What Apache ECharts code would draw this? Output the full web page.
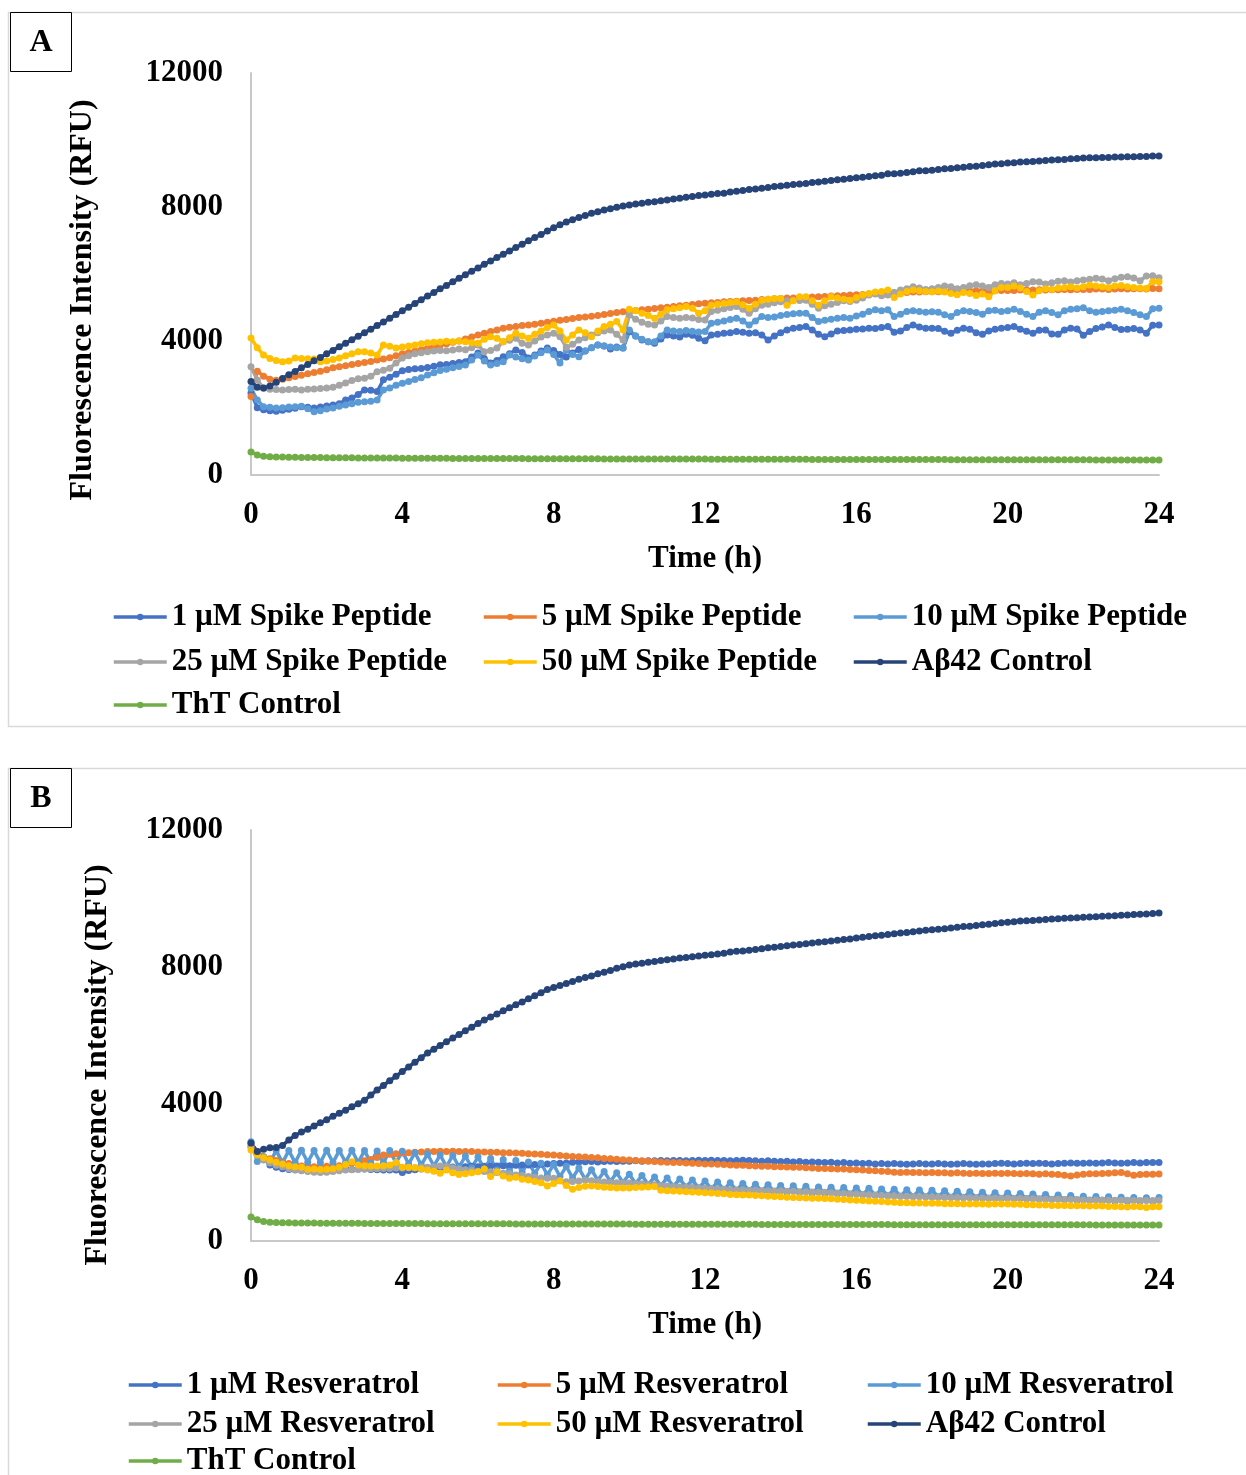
<!DOCTYPE html>
<html>
<head>
<meta charset="utf-8">
<script src="https://cdn.jsdelivr.net/npm/echarts@6/dist/echarts.min.js"></script>
<style>
  body { margin: 0; background: #fff; }
  #c1 { position: absolute; left: 0; top: 0; width: 1246px; height: 740px; }
  #c2 { position: absolute; left: 0; top: 740px; width: 1246px; height: 735px; }
</style>
</head>
<body>
<div id="c1"></div>
<div id="c2"></div>
<script>
// readings every 10 min, 0..24 h
var hours = [];
for (var i = 0; i <= 144; i++) hours.push(i / 6);

var xTicks = [0, 4, 8, 12, 16, 20, 24];
var yTicks = [0, 4000, 8000, 12000];

var namesA = ["1 µM Spike Peptide", "5 µM Spike Peptide", "10 µM Spike Peptide",
  "25 µM Spike Peptide", "50 µM Spike Peptide", "Aβ42 Control", "ThT Control"];
var namesB = ["1 µM Resveratrol", "5 µM Resveratrol", "10 µM Resveratrol",
  "25 µM Resveratrol", "50 µM Resveratrol", "Aβ42 Control", "ThT Control"];
var colors = ["#4472C4", "#ED7D31", "#5B9BD5", "#A5A5A5", "#FFC000", "#264478", "#70AD47"];

// ---- panel A ----
var spike1 = [
  2450, 2010, 1950, 1920, 1900, 1930, 1960, 1990, 2040, 2020, 2000, 2030,
  2060, 2090, 2130, 2240, 2300, 2400, 2540, 2530, 2490, 2840, 2920, 3010,
  3110, 3150, 3170, 3180, 3210, 3250, 3290, 3300, 3330, 3360, 3380, 3520,
  3640, 3480, 3340, 3420, 3530, 3620, 3730, 3660, 3490, 3580, 3700, 3790,
  3720, 3600, 3520, 3640, 3750, 3700, 3800, 3880, 3850, 3760, 3820, 3790,
  4280, 4150, 4030, 3980, 3930, 4060, 4180, 4150, 4120, 4200, 4170, 4080,
  4010, 4180, 4200, 4230, 4250, 4280, 4260, 4230, 4250, 4180, 4030, 4150,
  4250, 4330, 4380, 4400, 4430, 4330, 4200, 4130, 4210, 4300, 4310, 4330,
  4350, 4360, 4380, 4370, 4400, 4430, 4260, 4300, 4400, 4480, 4420, 4380,
  4380, 4370, 4290, 4230, 4320, 4380, 4350, 4250, 4200, 4300, 4350, 4380,
  4400, 4430, 4350, 4290, 4230, 4320, 4330, 4210, 4200, 4330, 4380, 4360,
  4170, 4280, 4370, 4420, 4480, 4400, 4340, 4350, 4370, 4330, 4230, 4470,
  4480];
var spike5 = [
  2340, 3100, 2950, 2860, 2830, 2860, 2900, 2940, 2980, 3020, 3060, 3100,
  3140, 3200, 3230, 3260, 3300, 3330, 3360, 3390, 3430, 3460, 3500, 3560,
  3620, 3660, 3700, 3740, 3790, 3830, 3870, 3920, 3960, 4000, 4060, 4120,
  4180, 4230, 4280, 4330, 4380, 4410, 4430, 4460, 4480, 4500, 4530, 4560,
  4590, 4620, 4640, 4670, 4700, 4720, 4740, 4760, 4790, 4820, 4850, 4870,
  4890, 4910, 4930, 4950, 4970, 4990, 5010, 5030, 5050, 5070, 5090, 5110,
  5130, 5140, 5150, 5170, 5180, 5190, 5200, 5210, 5220, 5240, 5250, 5260,
  5270, 5280, 5280, 5290, 5300, 5310, 5320, 5330, 5340, 5350, 5360, 5370,
  5380, 5390, 5400, 5420, 5430, 5440, 5440, 5450, 5450, 5460, 5460, 5470,
  5470, 5470, 5480, 5480, 5480, 5490, 5490, 5500, 5500, 5500, 5500, 5510,
  5510, 5510, 5520, 5520, 5520, 5530, 5520, 5530, 5530, 5540, 5530, 5540,
  5540, 5540, 5550, 5550, 5540, 5550, 5560, 5550, 5560, 5560, 5550, 5570,
  5560];
var spike10 = [
  2590, 2240, 2040, 2020, 2000, 2010, 2030, 2040, 2050, 1980, 1890, 1920,
  1970, 2000, 2050, 2090, 2130, 2170, 2190, 2200, 2240, 2540, 2600, 2680,
  2740, 2790, 2850, 2900, 2985, 3050, 3120, 3160, 3200, 3240, 3280, 3430,
  3580, 3400, 3280, 3330, 3380, 3580, 3520, 3470, 3430, 3550, 3650, 3730,
  3600, 3340, 3730, 3600, 3530, 3700, 3800, 3880, 3850, 3820, 3800, 3790,
  4330, 4150, 4050, 3980, 3980, 4150, 4330, 4300, 4280, 4310, 4290, 4270,
  4280, 4530, 4560, 4600, 4640, 4680, 4600, 4480, 4600, 4730, 4700, 4720,
  4760, 4790, 4810, 4830, 4830, 4700, 4580, 4620, 4650, 4680, 4700, 4680,
  4750, 4800, 4880, 4930, 4900, 4930, 4730, 4800, 4880, 4900, 4880, 4860,
  4870, 4860, 4780, 4730, 4850, 4900, 4880, 4850, 4800, 4900, 4920, 4880,
  4900, 4950, 4880, 4800, 4730, 4860, 4900, 4850, 4780, 4900, 4950, 4960,
  4990, 4900, 4860, 4880, 4900, 4920, 4950, 4900, 4850, 4780, 4730, 4960,
  4980];
var spike25 = [
  3230, 2835, 2590, 2560, 2550, 2540, 2550, 2560, 2540, 2560, 2570, 2580,
  2600, 2620, 2680, 2750, 2820, 2870, 2890, 2950, 3080, 3130, 3190, 3340,
  3490, 3560, 3620, 3650, 3680, 3700, 3720, 3710, 3730, 3760, 3740, 3800,
  3880, 3680, 3720, 3790, 3980, 4020, 4080, 3930, 3880, 4000, 4120, 4180,
  4230, 4130, 3810, 3900, 4030, 4100, 4180, 4250, 4300, 4330, 4200, 4030,
  4780, 4650, 4560, 4500, 4480, 4600, 4730, 4700, 4680, 4700, 4690, 4640,
  4630, 4880, 4920, 4960, 5000, 5030, 4950, 4830, 4960, 5070, 5100, 5140,
  5170, 5200, 5220, 5210, 5220, 5100, 4980, 5050, 5100, 5150, 5200, 5180,
  5220, 5280, 5370, 5400, 5350, 5370, 5450, 5520, 5560, 5620, 5580, 5540,
  5560, 5600, 5640, 5620, 5560, 5600, 5650, 5680, 5640, 5600, 5680, 5720,
  5700, 5740, 5680, 5720, 5770, 5760, 5700, 5740, 5780, 5800, 5760, 5800,
  5820, 5840, 5870, 5850, 5800, 5860, 5900, 5920, 5880, 5800, 5940, 5950,
  5890];
var spike50 = [
  4090, 3800, 3580, 3480, 3420, 3380, 3400, 3490, 3480, 3470, 3460, 3380,
  3400, 3450, 3490, 3560, 3620, 3680, 3680, 3640, 3580, 3880, 3840, 3790,
  3820, 3850, 3880, 3920, 3950, 3960, 3970, 3990, 3980, 4000, 3980, 3950,
  3930, 4050, 4130, 4080, 3980, 4100, 4230, 4150, 4080, 4200, 4300, 4400,
  4480, 4300, 4030, 4180, 4330, 4250, 4130, 4300, 4430, 4500, 4580, 4330,
  4950, 4900, 4830, 4760, 4680, 4800, 4930, 4960, 4990, 5030, 4980, 4830,
  4900, 5070, 5100, 5130, 5150, 5170, 5080, 4980, 5100, 5220, 5250, 5270,
  5270, 5070, 5200, 5320, 5320, 5200, 5070, 5200, 5320, 5280, 5250, 5220,
  5300, 5370, 5420, 5460, 5480, 5520, 5300, 5400, 5480, 5520, 5500, 5480,
  5470, 5490, 5460, 5420, 5380, 5450, 5420, 5360, 5400, 5320, 5500, 5600,
  5600, 5640, 5580, 5480, 5370, 5500, 5560, 5540, 5580, 5600, 5620, 5580,
  5620, 5670, 5640, 5620, 5600, 5640, 5660, 5620, 5600, 5580, 5570, 5770,
  5770];
var abetaA = [
  2790, 2620, 2600, 2660, 2770, 2880, 2990, 3090, 3200, 3300, 3410, 3510,
  3620, 3720, 3830, 3930, 4040, 4140, 4250, 4350, 4460, 4570, 4680, 4790,
  4900, 5010, 5120, 5230, 5340, 5450, 5560, 5660, 5770, 5870, 5980, 6080,
  6180, 6290, 6390, 6490, 6590, 6690, 6790, 6890, 6990, 7090, 7180, 7280,
  7380, 7470, 7550, 7620, 7690, 7750, 7810, 7860, 7910, 7950, 7990, 8030,
  8060, 8090, 8110, 8140, 8160, 8190, 8210, 8240, 8260, 8290, 8310, 8340,
  8360, 8380, 8400, 8410, 8450, 8470, 8490, 8520, 8540, 8560, 8580, 8610,
  8630, 8650, 8670, 8690, 8700, 8730, 8750, 8770, 8790, 8810, 8830, 8850,
  8870, 8890, 8910, 8930, 8950, 8990, 8990, 9010, 9030, 9050, 9080, 9080,
  9100, 9120, 9140, 9150, 9170, 9190, 9210, 9220, 9240, 9260, 9280, 9290,
  9310, 9320, 9340, 9350, 9360, 9370, 9390, 9400, 9410, 9420, 9440, 9450,
  9460, 9470, 9470, 9480, 9480, 9490, 9490, 9500, 9500, 9510, 9510, 9520,
  9520];
var thtA = [
  690, 600, 560, 545, 540, 535, 530, 528, 525, 522, 520, 520,
  518, 516, 515, 513, 512, 510, 510, 508, 507, 506, 505, 505,
  503, 502, 502, 500, 500, 499, 498, 497, 496, 496, 495, 494,
  494, 493, 492, 492, 491, 490, 490, 489, 488, 488, 487, 487,
  486, 485, 485, 484, 484, 483, 483, 482, 481, 481, 480, 480,
  479, 479, 478, 478, 477, 477, 476, 476, 475, 475, 474, 474,
  474, 473, 473, 472, 472, 471, 471, 470, 470, 470, 469, 469,
  468, 468, 468, 467, 467, 466, 466, 466, 465, 465, 464, 464,
  464, 463, 463, 463, 462, 462, 461, 461, 461, 460, 460, 460,
  459, 459, 459, 458, 458, 458, 457, 457, 457, 456, 456, 456,
  455, 455, 455, 454, 454, 454, 453, 453, 453, 453, 452, 452,
  452, 452, 451, 451, 451, 450, 450, 450, 450, 449, 449, 449,
  448];

// ---- panel B ----
var resv1 = [
  2850, 2610, 2450, 2220, 2150, 2110, 2090, 2080, 2070, 2075, 2080, 2100,
  2130, 2120, 2110, 2100, 2090, 2100, 2100, 2090, 2080, 2075, 2070, 2075,
  2000, 2060, 2080, 2100, 2130, 2140, 2150, 2150, 2160, 2170, 2170, 2180,
  2170, 2180, 2190, 2190, 2200, 2200, 2210, 2220, 2220, 2230, 2240, 2250,
  2260, 2270, 2280, 2300, 2310, 2315, 2320, 2310, 2320, 2330, 2320, 2330,
  2330, 2340, 2330, 2340, 2340, 2350, 2340, 2350, 2350, 2340, 2350, 2360,
  2350, 2360, 2350, 2350, 2340, 2350, 2360, 2350, 2340, 2330, 2340, 2330,
  2320, 2330, 2310, 2320, 2300, 2310, 2300, 2290, 2300, 2280, 2290, 2270,
  2280, 2260, 2270, 2250, 2260, 2250, 2260, 2250, 2240, 2250, 2260, 2250,
  2250, 2260, 2250, 2240, 2250, 2260, 2250, 2240, 2250, 2250, 2260, 2270,
  2260, 2250, 2260, 2270, 2260, 2270, 2260, 2250, 2260, 2270, 2280, 2270,
  2270, 2280, 2270, 2280, 2290, 2280, 2270, 2280, 2290, 2280, 2290, 2290,
  2290];
var resv5 = [
  2750, 2600, 2460, 2400, 2350, 2315, 2260, 2220, 2190, 2180, 2170, 2170,
  2180, 2190, 2200, 2230, 2270, 2300, 2340, 2380, 2440, 2510, 2530, 2550,
  2570, 2580, 2590, 2600, 2610, 2610, 2620, 2610, 2620, 2610, 2610, 2610,
  2600, 2600, 2590, 2590, 2580, 2580, 2570, 2560, 2550, 2540, 2530, 2520,
  2510, 2500, 2480, 2470, 2460, 2450, 2440, 2430, 2410, 2400, 2390, 2370,
  2365, 2350, 2340, 2330, 2320, 2310, 2300, 2290, 2290, 2280, 2270, 2260,
  2250, 2250, 2240, 2230, 2220, 2210, 2210, 2200, 2190, 2180, 2180, 2170,
  2170, 2160, 2150, 2150, 2140, 2130, 2120, 2120, 2110, 2100, 2100, 2090,
  2080, 2070, 2060, 2050, 2040, 2030, 2010, 2000, 2010, 2000, 2000, 1990,
  2000, 1990, 1990, 1980, 1990, 1980, 1970, 1980, 1970, 1970, 1980, 1970,
  1975, 1970, 1960, 1970, 1960, 1950, 1960, 1950, 1940, 1920, 1900, 1930,
  1950, 1960, 1960, 1970, 1980, 1990, 2000, 1960, 1920, 1940, 1950, 1950,
  1955];
var resv10 = [
  2900, 2320, 2450, 2300, 2640, 2290, 2640, 2290, 2650, 2300, 2640, 2290,
  2650, 2290, 2640, 2300, 2650, 2290, 2640, 2280, 2630, 2290, 2640, 2280,
  2620, 2250, 2580, 2220, 2540, 2190, 2510, 2170, 2500, 2160, 2480, 2140,
  2450, 2100, 2410, 2070, 2380, 2040, 2350, 2010, 2310, 1970, 2270, 1930,
  2230, 1880, 2180, 1840, 2130, 1800, 2080, 1770, 2030, 1740, 1990, 1710,
  1950, 1680, 1910, 1650, 1870, 1620, 1840, 1600, 1810, 1580, 1780, 1550,
  1750, 1530, 1720, 1500, 1700, 1480, 1680, 1460, 1660, 1450, 1640, 1440,
  1620, 1420, 1610, 1410, 1600, 1390, 1580, 1380, 1570, 1370, 1560, 1360,
  1550, 1350, 1540, 1330, 1520, 1320, 1510, 1310, 1500, 1300, 1490, 1290,
  1480, 1290, 1470, 1280, 1450, 1270, 1440, 1260, 1420, 1250, 1410, 1240,
  1400, 1240, 1390, 1230, 1370, 1220, 1360, 1210, 1340, 1200, 1330, 1190,
  1310, 1180, 1300, 1170, 1290, 1160, 1280, 1160, 1270, 1150, 1260, 1150,
  1270];
var resv25 = [
  2750, 2550, 2365, 2280, 2210, 2170, 2110, 2070, 2050, 2030, 2010, 2000,
  2010, 2030, 2050, 2070, 2080, 2090, 2100, 2110, 2110, 2120, 2120, 2130,
  2130, 2140, 2140, 2150, 2150, 2170, 2190, 2180, 2140, 2100, 2080, 2060,
  2040, 2030, 2020, 2000, 1980, 1960, 1930, 1910, 1880, 1860, 1840, 1835,
  1830, 1760, 1730, 1740, 1750, 1780, 1760, 1740, 1720, 1710, 1700, 1690,
  1690, 1680, 1670, 1650, 1640, 1620, 1600, 1590, 1580, 1570, 1560, 1550,
  1540, 1530, 1520, 1510, 1500, 1490, 1490, 1480, 1480, 1470, 1470, 1460,
  1460, 1450, 1450, 1440, 1440, 1430, 1420, 1420, 1410, 1400, 1390, 1380,
  1370, 1360, 1350, 1340, 1330, 1320, 1315, 1310, 1300, 1300, 1290, 1290,
  1280, 1280, 1270, 1270, 1260, 1260, 1260, 1250, 1250, 1250, 1250, 1245,
  1245, 1240, 1240, 1230, 1230, 1230, 1220, 1220, 1220, 1210, 1210, 1210,
  1200, 1200, 1200, 1200, 1190, 1190, 1190, 1190, 1180, 1180, 1180, 1180,
  1180];
var resv50 = [
  2660, 2510, 2430, 2365, 2300, 2250, 2200, 2170, 2150, 2095, 2100, 2090,
  2095, 2110, 2150, 2230, 2315, 2220, 2200, 2190, 2190, 2200, 2220, 2290,
  2150, 2150, 2140, 2110, 2075, 2040, 1975, 2075, 1990, 1940, 1960, 1990,
  2020, 2100, 1880, 2025, 1900, 1830, 1860, 1800, 1780, 1735, 1700, 1605,
  1680, 1760, 1620, 1510, 1560, 1600, 1605, 1590, 1570, 1560, 1550, 1545,
  1550, 1560, 1570, 1580, 1590, 1480, 1470, 1460, 1450, 1440, 1430, 1420,
  1410, 1400, 1390, 1380, 1360, 1350, 1345, 1340, 1330, 1320, 1310, 1300,
  1290, 1280, 1270, 1260, 1255, 1250, 1245, 1240, 1230, 1220, 1210, 1200,
  1190, 1180, 1170, 1160, 1150, 1140, 1130, 1120, 1120, 1110, 1110, 1100,
  1100, 1100, 1090, 1090, 1090, 1080, 1080, 1080, 1080, 1070, 1080, 1080,
  1080, 1070, 1070, 1060, 1060, 1050, 1050, 1040, 1040, 1040, 1030, 1030,
  1030, 1020, 1020, 1020, 1010, 1010, 1000, 990, 1010, 1000, 980, 1000,
  1000];
var abetaB = [
  2860, 2610, 2680, 2720, 2730, 2790, 2950, 3080, 3180, 3260, 3360, 3450,
  3540, 3640, 3730, 3820, 3920, 4010, 4110, 4260, 4410, 4540, 4680, 4810,
  4950, 5080, 5220, 5350, 5490, 5600, 5710, 5820, 5930, 6030, 6140, 6240,
  6350, 6450, 6540, 6630, 6720, 6810, 6900, 6980, 7070, 7160, 7250, 7340,
  7400, 7460, 7520, 7580, 7640, 7690, 7740, 7800, 7850, 7900, 7960, 8010,
  8060, 8090, 8110, 8140, 8160, 8190, 8210, 8230, 8260, 8280, 8300, 8320,
  8340, 8360, 8380, 8400, 8440, 8460, 8470, 8490, 8510, 8530, 8560, 8580,
  8600, 8620, 8640, 8660, 8680, 8700, 8720, 8740, 8760, 8780, 8800, 8820,
  8850, 8870, 8890, 8910, 8930, 8950, 8970, 8990, 9010, 9030, 9050, 9070,
  9090, 9100, 9120, 9140, 9160, 9180, 9190, 9210, 9230, 9250, 9270, 9290,
  9310, 9320, 9340, 9350, 9360, 9370, 9390, 9400, 9410, 9420, 9430, 9440,
  9450, 9460, 9470, 9480, 9490, 9500, 9510, 9520, 9530, 9540, 9550, 9560,
  9580];
var thtB = [
  700, 620, 570, 550, 540, 535, 530, 528, 525, 524, 522, 520,
  520, 518, 518, 516, 515, 515, 514, 513, 512, 512, 511, 510,
  510, 509, 509, 508, 507, 507, 506, 506, 505, 505, 504, 504,
  503, 503, 502, 502, 501, 501, 500, 500, 500, 499, 499, 498,
  498, 497, 497, 496, 496, 496, 495, 495, 494, 494, 494, 493,
  493, 492, 492, 492, 491, 491, 490, 490, 490, 489, 489, 489,
  488, 488, 488, 487, 487, 487, 486, 486, 486, 485, 485, 485,
  484, 484, 484, 483, 483, 483, 482, 482, 482, 481, 481, 481,
  480, 480, 480, 479, 479, 479, 478, 478, 478, 478, 477, 477,
  477, 476, 476, 476, 476, 475, 475, 475, 475, 474, 474, 474,
  474, 473, 473, 473, 473, 472, 472, 472, 472, 471, 471, 471,
  471, 471, 470, 470, 470, 470, 469, 469, 469, 469, 468, 468,
  468];

var FONT = '"Liberation Serif", "Times New Roman", serif';

function buildOption(p) {
  var series = p.values.map(function (vals, k) {
    return {
      name: p.names[k],
      type: "line",
      data: hours.map(function (h, j) { return [h, vals[j]]; }),
      symbol: "circle",
      symbolSize: 7,
      showSymbol: true,
      showAllSymbol: true,
      lineStyle: { width: 3.5, color: colors[k] },
      itemStyle: { color: colors[k] },
      emphasis: { disabled: true },
      animation: false
    };
  });
  var legends = p.names.map(function (n, k) {
    return {
      data: [n],
      left: p.legCols[k % 3],
      top: p.legRows[Math.floor(k / 3)] - 16,
      padding: 0,
      itemWidth: 53,
      itemHeight: 8,
      selectedMode: false,
      lineStyle: { width: 3.5 },
      textStyle: { fontFamily: FONT, fontWeight: "bold", fontSize: 31, color: "#000", lineHeight: 32 }
    };
  });
  var plain = function (v) { return String(v); };
  return {
    animation: false,
    backgroundColor: "#fff",
    grid: { left: 251, right: 87, top: p.top, bottom: p.bottom },
    xAxis: {
      type: "value",
      min: xTicks[0],
      max: xTicks[xTicks.length - 1],
      interval: 4,
      name: "Time (h)",
      nameLocation: "middle",
      nameGap: 68,
      nameTextStyle: { fontFamily: FONT, fontWeight: "bold", fontSize: 31, color: "#000" },
      axisLine: { lineStyle: { color: "#c8c8c8", width: 2 } },
      axisTick: { show: false },
      splitLine: { show: false },
      axisLabel: { margin: 24, formatter: plain, fontFamily: FONT, fontWeight: "bold", fontSize: 31, color: "#000" }
    },
    yAxis: {
      type: "value",
      min: yTicks[0],
      max: yTicks[yTicks.length - 1],
      interval: 4000,
      axisLine: { show: true, lineStyle: { color: "#c8c8c8", width: 2 } },
      axisTick: { show: false },
      splitLine: { show: false },
      axisLabel: { margin: 28, formatter: plain, fontFamily: FONT, fontWeight: "bold", fontSize: 31, color: "#000" }
    },
    legend: legends,
    graphic: [
      { type: "rect", silent: true, z: -1, shape: { x: 8.5, y: p.boxTop + 0.5, width: 1260, height: p.boxH },
        style: { fill: null, stroke: "#d9d9d9", lineWidth: 1.5 } },
      { type: "rect", silent: true, shape: { x: 10.5, y: p.boxTop + 0.5, width: 61, height: 59 },
        style: { fill: "#fff", stroke: "#000", lineWidth: 1 } },
      { type: "text", silent: true, x: 41, y: p.boxTop + 31,
        style: { text: p.letter, font: 'bold 32px ' + FONT, fill: "#000", align: "center", verticalAlign: "middle" } },
      { type: "text", silent: true, x: p.yTitleX, y: p.yTitleY, rotation: Math.PI / 2,
        style: { text: "Fluorescence Intensity (RFU)", font: 'bold 32px ' + FONT, fill: "#000", align: "center", verticalAlign: "middle" } }
    ],
    series: series
  };
}

var chartA = echarts.init(document.getElementById("c1"));
chartA.setOption(buildOption({
  letter: "A",
  names: namesA,
  values: [spike1, spike5, spike10, spike25, spike50, abetaA, thtA],
  top: 73, bottom: 740 - 475,
  boxTop: 12, boxH: 714,
  yTitleX: 83, yTitleY: 300,
  legCols: [112, 482, 852],
  legRows: [617, 662, 705]
}));

var chartB = echarts.init(document.getElementById("c2"));
chartB.setOption(buildOption({
  letter: "B",
  names: namesB,
  values: [resv1, resv5, resv10, resv25, resv50, abetaB, thtB],
  top: 830 - 740, bottom: 735 - (1241 - 740),
  boxTop: 28, boxH: 760,
  yTitleX: 98, yTitleY: 1065 - 740,
  legCols: [127, 496, 866],
  legRows: [1385 - 740, 1424 - 740, 1461 - 740]
}));
</script>
</body>
</html>
